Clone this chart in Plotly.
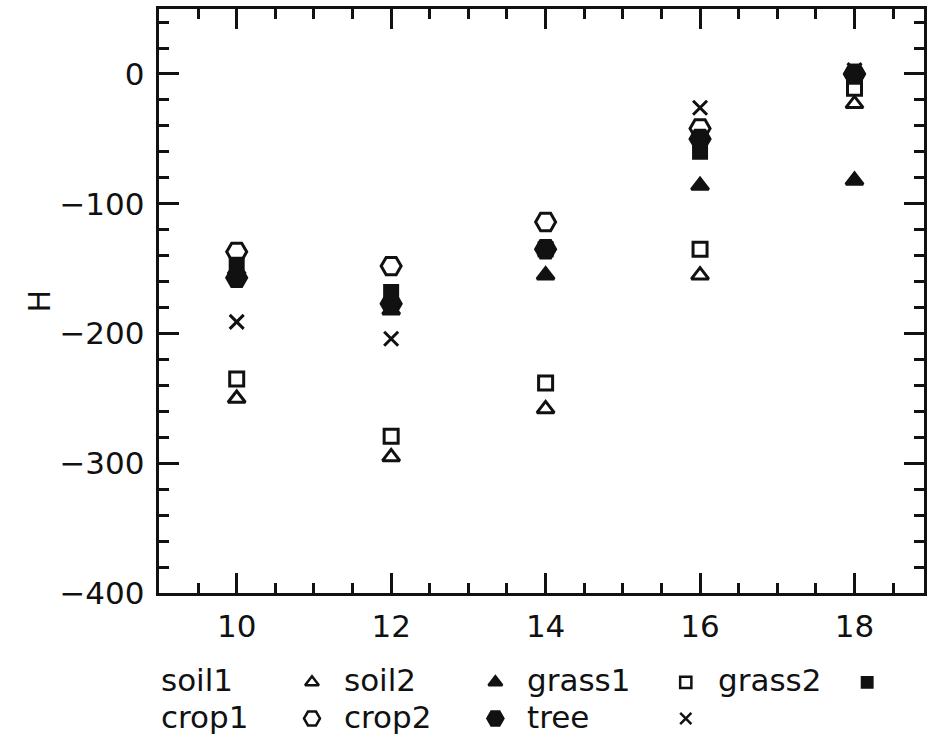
import plotly.graph_objects as go

# ---- data ----
x_vals = [10, 12, 14, 16, 18]
soil1 = [-250, -295, -258, -155, -23]
soil2 = [-151, -182, -155, -86, -82]
grass1 = [-235, -279, -238, -135, -11]
grass2 = [-147, -168, -135, -60, -2]
crop1 = [-137, -148, -114, -42, 0]
crop2 = [-157, -177, -135, -50, 0]
tree = [-191, -204, -135, -26, 3]

series_names = ["soil1", "soil2", "grass1", "grass2", "crop1", "crop2", "tree"]
series_values = [soil1, soil2, grass1, grass2, crop1, crop2, tree]
series_symbols = ["triangle-up-open", "triangle-up", "square-open", "square",
                  "hexagon2-open", "hexagon2", "x-thin-open"]
series_sizes = [15, 15, 14, 13, 20, 20, 14]

y_tickvals = [-400, -300, -200, -100, 0]
y_ticktext = ["\u2212400", "\u2212300", "\u2212200", "\u2212100", "0"]
x_tickvals = [10, 12, 14, 16, 18]
x_ticktext = ["10", "12", "14", "16", "18"]

# legend layout (grid of columns/rows in pixels)
leg_rows = [0, 0, 0, 0, 1, 1, 1]
leg_cols = [0, 1, 2, 3, 0, 1, 2]
col_label_x = [160, 343, 527, 718]
col_symbol_x = [313, 497, 688, 870]
row_text_y = [697, 734]
row_symbol_y = [699, 736]

W, H = 927, 756
FONT = "DejaVu Sans"
INK = "#111111"

fig = go.Figure()

for name, vals, sym, sz in zip(series_names, series_values, series_symbols, series_sizes):
    fig.add_trace(go.Scatter(
        x=x_vals, y=vals, mode="markers", name=name, showlegend=False,
        marker=dict(symbol=sym, size=sz, color=INK, opacity=1,
                    line=dict(color=INK, width=3)),
        xaxis="x", yaxis="y"))

# legend symbols on a hidden pixel-space axis
fig.add_trace(go.Scatter(
    x=[col_symbol_x[c] for c in leg_cols],
    y=[row_symbol_y[r] for r in leg_rows],
    mode="markers", showlegend=False, hoverinfo="skip",
    marker=dict(symbol=series_symbols, size=[s * 0.8 for s in series_sizes], color=INK,
                opacity=1, line=dict(color=INK, width=2.5)),
    xaxis="x2", yaxis="y2"))

annotations = []
for name, r, c in zip(series_names, leg_rows, leg_cols):
    annotations.append(dict(
        text=name, x=col_label_x[c] / W, y=1 - row_text_y[r] / H,
        xref="paper", yref="paper", xanchor="left", yanchor="middle",
        showarrow=False, font=dict(family=FONT, size=31, color=INK)))
annotations.append(dict(
    text="H", x=40 / W, y=1 - 308 / H, xref="paper", yref="paper",
    xanchor="center", yanchor="middle", textangle=-90, showarrow=False,
    font=dict(family=FONT, size=30, color=INK)))

x_left, x_right = 160, 927
y_top, y_bot = 9.3, 607.7

fig.update_layout(
    width=W, height=H,
    margin=dict(l=0, r=0, t=0, b=0),
    paper_bgcolor="white", plot_bgcolor="white",
    font=dict(family=FONT, color=INK),
    annotations=annotations,
    xaxis=dict(
        domain=[x_left / W, x_right / W], range=[9, 18.9],
        tickvals=x_tickvals, ticktext=x_ticktext,
        ticks="inside", ticklen=20, tickwidth=2.5, tickcolor=INK,
        minor=dict(dtick=0.5, tick0=9, ticks="inside", ticklen=10, tickwidth=2.5, tickcolor=INK),
        showline=True, linewidth=2.5, linecolor=INK, mirror="ticks",
        showgrid=False, zeroline=False,
        tickfont=dict(family=FONT, size=31, color=INK), ticklabelstandoff=4,
        anchor="y", fixedrange=True),
    yaxis=dict(
        domain=[1 - y_bot / H, 1 - y_top / H], range=[-400, 50],
        tickvals=y_tickvals, ticktext=y_ticktext,
        ticks="inside", ticklen=20, tickwidth=2.5, tickcolor=INK,
        minor=dict(dtick=20, tick0=0, ticks="inside", ticklen=10, tickwidth=2.5, tickcolor=INK),
        showline=True, linewidth=2.5, linecolor=INK, mirror="ticks",
        showgrid=False, zeroline=False,
        tickfont=dict(family=FONT, size=31, color=INK), ticklabelstandoff=6,
        anchor="x", fixedrange=True),
    xaxis2=dict(domain=[0, 1], range=[0, W], visible=False, anchor="y2", fixedrange=True),
    yaxis2=dict(domain=[0, 100 / H], range=[H, H - 100], visible=False, anchor="x2", fixedrange=True),
)

fig.write_html("out.html")
